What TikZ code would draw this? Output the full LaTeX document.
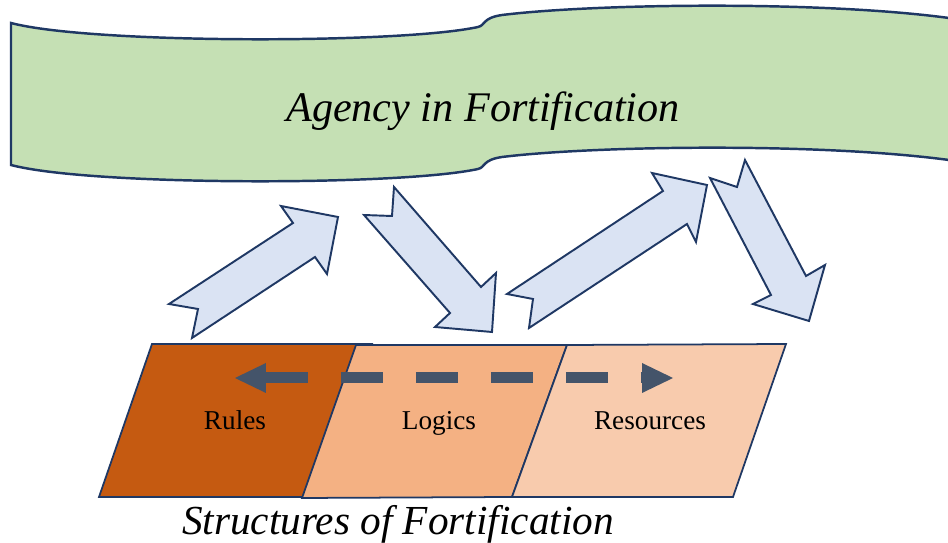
\documentclass[tikz,border=0pt]{standalone}
\usepackage{fontspec}
\setmainfont{Liberation Serif}
\usetikzlibrary{arrows.meta}

\definecolor{bannergreen}{HTML}{C5E0B4}
\definecolor{outlineblue}{HTML}{1F3864}
\definecolor{arrowblue}{HTML}{DAE3F3}
\definecolor{rulesbrown}{HTML}{C55A11}
\definecolor{logicsorange}{HTML}{F4B183}
\definecolor{resourcespeach}{HTML}{F8CBAD}
\definecolor{dashgray}{HTML}{44546A}

\begin{document}
\begin{tikzpicture}[x=0.02cm, y=-0.02cm,
        blockarrow/.style={draw=outlineblue, fill=arrowblue, line width=1.1pt, line join=miter},
        panel/.style={draw=outlineblue, line width=1pt},
        panellabel/.style={anchor=base, font=\fontsize{15.5}{18}\selectfont},
        headline/.style={anchor=base, font=\itshape\fontsize{24}{28}\selectfont}]
        \useasboundingbox (0,0) rectangle (948,543);
        \clip (0,0) rectangle (948,543);

        \draw[fill=bannergreen, draw=outlineblue, line width=1.4pt]
            (11,23) .. controls (90,44) and (400,44) .. (478,27)
            .. controls (486,25) and (482,18) .. (502,15)
            .. controls (600,3) and (850,0) .. (975,22) -- (975,164)
            .. controls (850,142) and (600,145) .. (502,157)
            .. controls (482,160) and (486,167) .. (478,169)
            .. controls (400,186) and (90,186) .. (11,165) -- cycle;
        \node[headline] (agency) at (483,122) {Agency in Fortification};

        \draw[blockarrow] (169,304) -- (198,309) -- (192,338) -- (315,257) -- (327,274)
            -- (338,217) -- (281,206) -- (293,223) -- cycle;
        \draw[blockarrow] (364,215) -- (392,216) -- (394,187) -- (481,287) -- (496,273)
            -- (492,332) -- (435,327) -- (450,313) -- cycle;
        \draw[blockarrow] (507,294) -- (533,299) -- (529,328) -- (687,224) -- (696,242)
            -- (707,185) -- (652,173) -- (663,191) -- cycle;
        \draw[blockarrow] (710,178) -- (737,187) -- (745,160) -- (806,276) -- (825,265)
            -- (809,321) -- (753,304) -- (771,295) -- cycle;

        \draw[panel, fill=rulesbrown] (152,344) -- (372,344) -- (319,497) -- (99,497) -- cycle;
        \draw[panel, fill=logicsorange] (356,345) -- (567,345) -- (512,497) -- (302,498) -- cycle;
        \draw[panel, fill=resourcespeach] (567,345) -- (786,344) -- (733,497) -- (512,497) -- cycle;

        \coordinate (rulesend) at (235,378);
        \coordinate (resourcesend) at (673,378);
        \draw[dashgray, line width=0.22cm, dash pattern=on 0.84cm off 0.66cm,
            {Triangle[length=0.62cm, width=0.6cm, line width=0pt]}-{Triangle[length=0.62cm, width=0.6cm, line width=0pt]}]
            (rulesend) -- (resourcesend);

        \node[panellabel] (rules) at (235,430) {Rules};
        \node[panellabel] (logics) at (439,430) {Logics};
        \node[panellabel] (resources) at (650,430) {Resources};
        \node[headline, font=\itshape\fontsize{23.5}{28}\selectfont] (structures) at (398,535) {Structures of Fortification};
    \end{tikzpicture}
\end{document}
